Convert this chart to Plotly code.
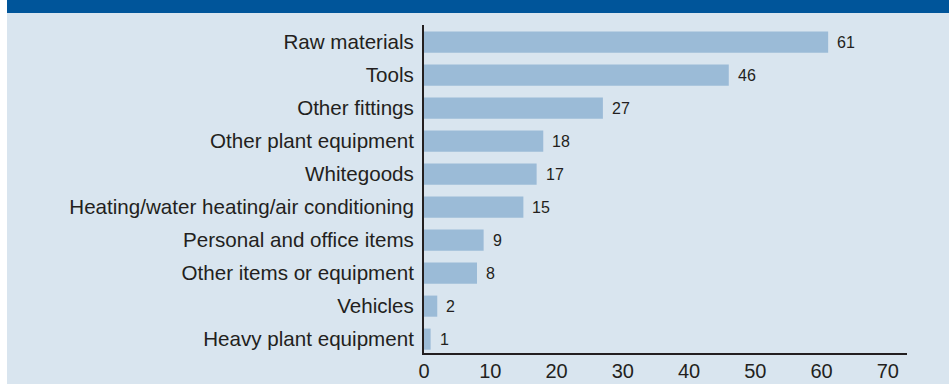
import plotly.graph_objects as go

# Categories listed top to bottom with their values (per cent)
categories = [
    "Raw materials",
    "Tools",
    "Other fittings",
    "Other plant equipment",
    "Whitegoods",
    "Heating/water heating/air conditioning",
    "Personal and office items",
    "Other items or equipment",
    "Vehicles",
    "Heavy plant equipment",
]
values = [61, 46, 27, 18, 17, 15, 9, 8, 2, 1]
x_ticks = [0, 10, 20, 30, 40, 50, 60, 70]

W, H = 949, 384
L, R, T, B = 424, 42, 25, 31
plot_w = W - L - R
plot_h = H - T - B

def px_x(p):
    return (p - L) / plot_w

def px_y(p):
    return (H - B - p) / plot_h

PANEL = "#D9E5EF"
BAND = "#00559A"
BAR = "#9BBBD7"
INK = "#231F20"
FONT = "Liberation Sans, Arial, Helvetica, sans-serif"
LABEL_SIZE = 20.6

fig = go.Figure()
fig.add_trace(go.Bar(
    x=values,
    y=categories,
    orientation="h",
    marker=dict(color=BAR, line=dict(width=0)),
    hoverinfo="skip",
))

annotations = [
    dict(x=v, y=c, xref="x", yref="y", text=str(v), showarrow=False,
         xanchor="left", xshift=7, font=dict(size=16, color=INK, family=FONT))
    for c, v in zip(categories, values)
]

shapes = [
    # white margin strip on the left
    dict(type="rect", xref="paper", yref="paper", x0=px_x(-2), x1=px_x(7),
         y0=px_y(H + 5), y1=px_y(-5), fillcolor="white", line=dict(width=0), layer="below"),
    # dark title band across the top
    dict(type="rect", xref="paper", yref="paper", x0=px_x(7), x1=px_x(W + 5),
         y0=px_y(13), y1=px_y(-5), fillcolor=BAND, line=dict(width=0), layer="below"),
]

fig.update_layout(
    width=W, height=H,
    margin=dict(l=L, r=R, t=T, b=B, pad=0, autoexpand=False),
    paper_bgcolor=PANEL,
    plot_bgcolor="rgba(0,0,0,0)",
    bargap=0.36,
    showlegend=False,
    font=dict(family=FONT, color=INK),
    shapes=shapes,
    annotations=annotations,
    xaxis=dict(
        range=[0, 72.9],
        tickvals=x_ticks,
        ticktext=[str(t) for t in x_ticks],
        showgrid=False, zeroline=False,
        showline=True, linecolor=INK, linewidth=2,
        ticks="", tickfont=dict(size=20, color=INK, family=FONT),
        ticklabelstandoff=-1,
        automargin=False,
    ),
    yaxis=dict(
        type="category",
        categoryorder="array",
        categoryarray=categories,
        range=[9.42, -0.52],
        showgrid=False, zeroline=False,
        showline=True, linecolor=INK, linewidth=2,
        ticks="", tickfont=dict(size=LABEL_SIZE, color=INK, family=FONT),
        ticklabelstandoff=4,
        automargin=False,
    ),
)

fig.write_html("out.html")
